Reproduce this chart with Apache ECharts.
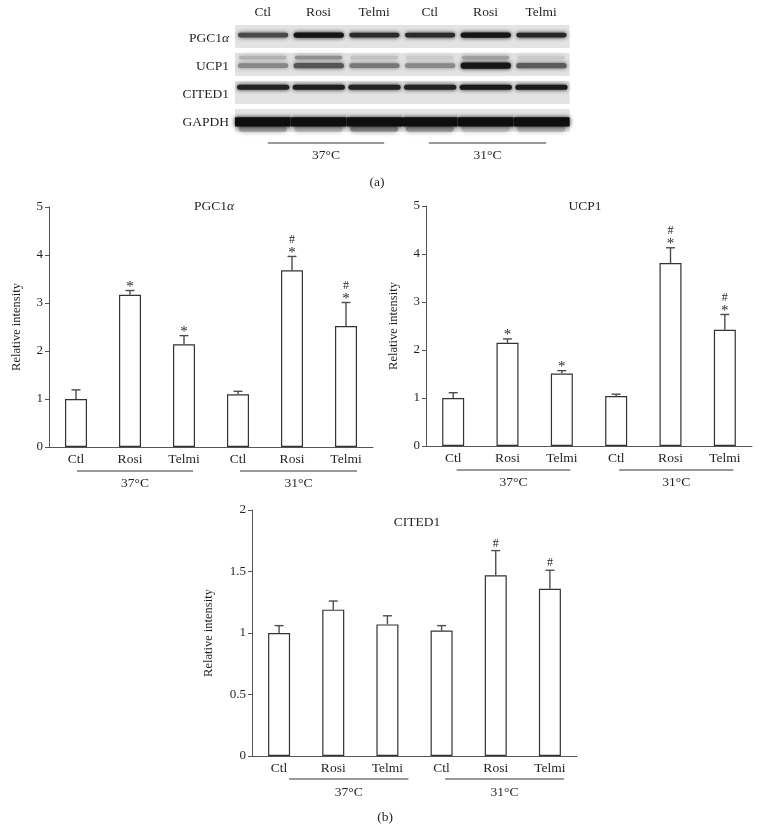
<!DOCTYPE html>
<html>
<head>
<meta charset="utf-8">
<script src="https://cdn.jsdelivr.net/npm/echarts@6/dist/echarts.min.js"></script>
<style>
  html, body { margin: 0; padding: 0; background: #fff; }
  #main { width: 760px; height: 832px; }
</style>
</head>
<body>
<div id="main"></div>
<script>
// lanes / groups
var laneNames = ['Ctl', 'Rosi', 'Telmi', 'Ctl', 'Rosi', 'Telmi'];
var groupNames = ['37°C', '31°C'];
var groupLanes = [[0, 2], [3, 5]];

// western blot (a): band darkness 0..1 per lane
var blotProteins = ['PGC1α', 'UCP1', 'CITED1', 'GAPDH'];
var pgcBand = [0.72, 0.96, 0.86, 0.86, 0.97, 0.88];
var ucpBand = [0.42, 0.66, 0.5, 0.42, 0.96, 0.64];
var citedBand = [0.9, 0.92, 0.9, 0.9, 0.95, 0.94];
var gapdhBand = [1, 1, 1, 1, 1, 1];
var ucpUpperBand = [0.22, 0.38, 0.15, 0.1, 0.3, 0.1];
var gapdhLowerBand = [0.35, 0.25, 0.45, 0.38, 0.2, 0.25];

// relative intensity (b): mean and error
var pgcMean = [1.0, 3.17, 2.14, 1.10, 3.68, 2.52];
var pgcErr = [0.19, 0.09, 0.18, 0.06, 0.29, 0.49];
var pgcSig = ['', '*', '*', '', '#*', '#*'];

var ucpMean = [1.0, 2.15, 1.51, 1.04, 3.81, 2.42];
var ucpErr = [0.11, 0.08, 0.06, 0.04, 0.32, 0.32];
var ucpSig = ['', '*', '*', '', '#*', '#*'];

var citedMean = [1.0, 1.19, 1.07, 1.02, 1.47, 1.36];
var citedErr = [0.06, 0.07, 0.07, 0.04, 0.20, 0.15];
var citedSig = ['', '', '', '', '#', '#'];

var serif = "'Liberation Serif', 'Times New Roman', serif";
var ink = '#231f20';
var richAlpha = { a: { fontStyle: 'italic', fontFamily: serif, fontSize: 13.5, color: ink } };

function greek(s) { return s.replace('α', '{a|α}'); }

// blot rendering
var bandRows = [pgcBand, ucpBand, citedBand, gapdhBand];
var secondRows = [null, ucpUpperBand, null, gapdhLowerBand];
var bandPos = [0.44, 0.55, 0.27, 0.56];
var secondPos = [0, 0.2, 0, 0.86];
var bandThick = [5, 6, 5, 9];
var bandInset = [3, 3, 2, 0];

var blotData = [];
bandRows.forEach(function (row, r) {
  row.forEach(function (v, l) {
    blotData.push([l, r, v, secondRows[r] ? secondRows[r][l] : 0]);
  });
});

function grey(d) {
  var g = Math.round(224 - d * 210);
  return 'rgb(' + g + ',' + g + ',' + g + ')';
}

function blotRender(params, api) {
  var lane = api.value(0), row = api.value(1);
  var c = api.coord([lane, row]);
  var s = api.size([1, 1]);
  var w = s[0], h = s[1];
  var top = c[1] - h / 2 + 1, sh = h - 5;
  var kids = [{
    type: 'rect',
    shape: { x: c[0] - w / 2, y: top, width: w + 0.6, height: sh },
    style: { fill: '#e3e3e3' }
  }];
  var d2 = api.value(3);
  if (d2 > 0) {
    var t2 = bandThick[row] * 0.6;
    kids.push({
      type: 'rect',
      shape: { x: c[0] - w / 2 + 4, y: top + sh * secondPos[row] - t2 / 2, width: w - 8, height: t2, r: t2 / 2 },
      style: { fill: grey(d2), shadowBlur: 5, shadowColor: grey(d2) }
    });
  }
  var d = api.value(2);
  var th = bandThick[row] * (0.55 + 0.5 * d);
  var ins = bandInset[row];
  kids.push({
    type: 'rect',
    shape: { x: c[0] - w / 2 + ins, y: top + sh * bandPos[row] - th / 2, width: w - 2 * ins + 0.6, height: th, r: ins ? th / 2 : 1 },
    style: { fill: grey(d), shadowBlur: 4, shadowColor: grey(d) }
  });
  return { type: 'group', children: kids };
}

function errRender(sigs) {
  return function (params, api) {
    var x = api.value(0);
    var lo = api.coord([x, api.value(1)]);
    var hi = api.coord([x, api.value(1) + api.value(2)]);
    var st = { stroke: '#4d4d4d', lineWidth: 1.4 };
    var kids = [
      { type: 'line', shape: { x1: lo[0], y1: lo[1], x2: hi[0], y2: hi[1] }, style: st },
      { type: 'line', shape: { x1: hi[0] - 4.5, y1: hi[1], x2: hi[0] + 4.5, y2: hi[1] }, style: st }
    ];
    var sg = sigs[params.dataIndex];
    var y = hi[1];
    if (sg.indexOf('*') >= 0) {
      kids.push({ type: 'text', x: hi[0], y: y + 4, style: {
        text: '*', textAlign: 'center', textVerticalAlign: 'bottom', align: 'center', verticalAlign: 'bottom',
        fontFamily: serif, fontSize: 15, fill: ink } });
      y -= 10;
    }
    if (sg.indexOf('#') >= 0) {
      kids.push({ type: 'text', x: hi[0], y: y - 1, style: {
        text: '#', textAlign: 'center', textVerticalAlign: 'bottom', align: 'center', verticalAlign: 'bottom',
        fontFamily: serif, fontSize: 12, fill: ink } });
    }
    return { type: 'group', children: kids };
  };
}

function groupRender(cfg) {
  return function (params, api) {
    var i = params.dataIndex;
    var a = api.coord([api.value(0), api.value(2)]);
    var b = api.coord([api.value(1), api.value(2)]);
    var base = a[1] + cfg.base;
    var x1 = a[0] + cfg.off[i][0], x2 = b[0] + cfg.off[i][1];
    return { type: 'group', children: [
      { type: 'line', shape: { x1: x1, y1: base + cfg.dyLine, x2: x2, y2: base + cfg.dyLine },
        style: { stroke: '#333', lineWidth: 1 } },
      { type: 'text', x: (x1 + x2) / 2, y: base + cfg.dyText, style: {
        text: groupNames[i], textAlign: 'center', textVerticalAlign: 'middle', align: 'center', verticalAlign: 'middle',
        fontFamily: serif, fontSize: 13.5, fill: ink } }
    ] };
  };
}

function groupData(yv) {
  return groupLanes.map(function (g) { return [g[0], g[1], yv]; });
}

function barAxisX(gi) {
  return {
    gridIndex: gi, type: 'category', data: laneNames,
    axisLine: { lineStyle: { color: '#555', width: 1 } },
    axisTick: { length: 3, lineStyle: { color: '#aaa' } },
    axisLabel: { margin: 5, fontFamily: serif, fontSize: 13.5, color: ink }
  };
}

function barAxisY(gi, max, interval, gap) {
  return {
    gridIndex: gi, type: 'value', min: 0, max: max, interval: interval,
    axisLine: { show: true, lineStyle: { color: '#555', width: 1 } },
    axisTick: { show: true, length: 4, lineStyle: { color: '#555' } },
    splitLine: { show: false },
    axisLabel: { margin: 6, fontFamily: serif, fontSize: 13, color: ink },
    name: 'Relative intensity', nameLocation: 'middle', nameRotate: 90, nameGap: gap,
    nameTextStyle: { fontFamily: serif, fontSize: 12.5, color: ink }
  };
}

function barSeries(gi, mean) {
  return {
    type: 'bar', xAxisIndex: gi, yAxisIndex: gi, data: mean, barWidth: 22,
    itemStyle: { color: '#fff', borderColor: '#333', borderWidth: 1.2 }, silent: true
  };
}

function errSeries(gi, mean, err, sig) {
  return {
    type: 'custom', xAxisIndex: gi, yAxisIndex: gi, clip: false, silent: true, z: 5,
    data: mean.map(function (m, i) { return [i, m, err[i]]; }),
    encode: { x: 0, y: 1 },
    renderItem: errRender(sig)
  };
}

function groupSeries(gi, cfg, yv) {
  return {
    type: 'custom', xAxisIndex: gi, yAxisIndex: gi, clip: false, silent: true,
    data: groupData(yv), encode: { x: [0, 1], y: 2 },
    renderItem: groupRender(cfg)
  };
}

var chart = echarts.init(document.getElementById('main'));
chart.setOption({
  animation: false,
  backgroundColor: '#fff',
  grid: [
    { left: 235, top: 24, width: 334, height: 112 },
    { left: 49, top: 207, width: 324, height: 240 },
    { left: 426, top: 206, width: 326, height: 240 },
    { left: 252, top: 510, width: 325, height: 246 }
  ],
  xAxis: [
    {
      gridIndex: 0, type: 'category', data: laneNames, position: 'top',
      axisLine: { show: false }, axisTick: { show: false },
      axisLabel: { margin: 5, fontFamily: serif, fontSize: 13.5, color: ink }
    },
    barAxisX(1), barAxisX(2), barAxisX(3)
  ],
  yAxis: [
    {
      gridIndex: 0, type: 'category', data: blotProteins, inverse: true,
      axisLine: { show: false }, axisTick: { show: false },
      axisLabel: { margin: 6, fontFamily: serif, fontSize: 13.5, color: ink, formatter: greek, rich: richAlpha }
    },
    barAxisY(1, 5, 1, 26), barAxisY(2, 5, 1, 26), barAxisY(3, 2, 0.5, 37)
  ],
  series: [
    {
      type: 'custom', xAxisIndex: 0, yAxisIndex: 0, silent: true,
      data: blotData, encode: { x: 0, y: 1 }, renderItem: blotRender
    },
    groupSeries(0, { base: 14, dyLine: 7, dyText: 19, off: [[5, 10], [-1, 5]] }, 3),
    barSeries(1, pgcMean), errSeries(1, pgcMean, pgcErr, pgcSig),
    groupSeries(1, { base: 0, dyLine: 24, dyText: 36, off: [[1, 9], [2, 11]] }, 0),
    barSeries(2, ucpMean), errSeries(2, ucpMean, ucpErr, ucpSig),
    groupSeries(2, { base: 0, dyLine: 24, dyText: 36, off: [[3.5, 8.5], [3, 8.5]] }, 0),
    barSeries(3, citedMean), errSeries(3, citedMean, citedErr, citedSig),
    groupSeries(3, { base: 0, dyLine: 23, dyText: 36, off: [[10, 21], [3.5, 14]] }, 0)
  ],
  graphic: [
    { type: 'text', x: 377, y: 182, style: { text: '(a)', align: 'center', verticalAlign: 'middle', textAlign: 'center', textVerticalAlign: 'middle', fontFamily: serif, fontSize: 13.5, fill: ink } },
    { type: 'text', x: 385, y: 817, style: { text: '(b)', align: 'center', verticalAlign: 'middle', textAlign: 'center', textVerticalAlign: 'middle', fontFamily: serif, fontSize: 13.5, fill: ink } },
    { type: 'text', x: 214, y: 206, style: { text: greek('PGC1α'), rich: richAlpha, align: 'center', verticalAlign: 'middle', textAlign: 'center', textVerticalAlign: 'middle', fontFamily: serif, fontSize: 13.5, fill: ink } },
    { type: 'text', x: 585, y: 206, style: { text: 'UCP1', align: 'center', verticalAlign: 'middle', textAlign: 'center', textVerticalAlign: 'middle', fontFamily: serif, fontSize: 13.5, fill: ink } },
    { type: 'text', x: 417, y: 522, style: { text: 'CITED1', align: 'center', verticalAlign: 'middle', textAlign: 'center', textVerticalAlign: 'middle', fontFamily: serif, fontSize: 13.5, fill: ink } }
  ]
});
</script>
</body>
</html>
